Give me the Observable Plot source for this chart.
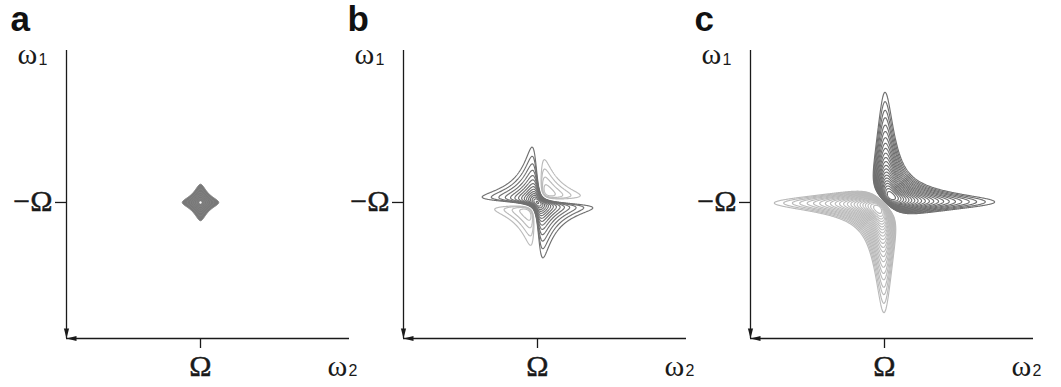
<!DOCTYPE html>
<html>
<head>
<meta charset="utf-8">
<script src="https://cdn.jsdelivr.net/npm/d3@7"></script>
<script src="https://cdn.jsdelivr.net/npm/@observablehq/plot@0.6"></script>
<style>
  html, body { margin: 0; padding: 0; background: #ffffff; }
  #fig { position: relative; width: 1061px; height: 387px; overflow: hidden; background: #ffffff; }
  #fig svg { position: absolute; top: 0; background: transparent !important; max-width: none !important; }
</style>
</head>
<body>
<div id="fig"></div>
<script>
// ---------- data ----------
const panelLetters = ["a", "b", "c"];
const lineshapes = ["magnitude", "absorptive", "dispersive"];
const linewidths = [0.40, 0.45, 0.82];            // peak width (in ω units)
const peakOmega2 = [10, 10, 10];                  // ω2 = Ω
const peakOmega1 = [-10, -10, -10];               // ω1 = −Ω
const xTickValues = [10];
const xTickLabels = ["Ω"];
const yTickValues = [-10];
const yTickLabels = ["−Ω"];
const axisSymbols = ["ω", "ω"];
const axisSubscripts = ["1", "2"];
// panel a: outermost contour (filled region) and innermost contour (white centre)
const filledLevel = [0.08, null, null];
const holeLevel = [0.95, null, null];
const positiveLevels = [
  [0.08, 0.14, 0.22, 0.32, 0.45, 0.62, 0.80],
  [0.060, 0.073, 0.089, 0.109, 0.133, 0.162, 0.198, 0.241, 0.294, 0.359, 0.438, 0.534, 0.652, 0.795, 0.970],
  [0.099, 0.108, 0.118, 0.128, 0.140, 0.152, 0.166, 0.181, 0.197, 0.215, 0.234, 0.255, 0.278,
   0.303, 0.330, 0.360, 0.392, 0.428, 0.466, 0.508, 0.554, 0.604]
];
const negativeLevels = [
  [],
  [0.060, 0.073, 0.089, 0.109],
  [0.099, 0.108, 0.118, 0.128, 0.140, 0.152, 0.166, 0.181, 0.197, 0.215, 0.234, 0.255, 0.278,
   0.303, 0.330, 0.360, 0.392, 0.428, 0.466, 0.508, 0.554, 0.604]
];

// ---------- layout / style ----------
const xDomain = [0, 21.12];
const yDomain = [-20.15, 1.34];
const panelLeft = [0, 337, 684];
const W = 360, H = 387, ML = 66, MR = 11, MT = 50, MB = 49;
const INK = "#1a1a1a", DARK = "#707070", LIGHT = "#bababa", PANEL_A = "#787878";
const SERIF = "'Liberation Serif', 'Times New Roman', serif";
const SANS = "'Liberation Sans', Arial, sans-serif";

const shapes = {
  magnitude: (d1, d2) => 1 / ((1 + d1 * d1) * (1 + d2 * d2)),
  absorptive: (d1, d2) => (1 - d1 * d2) / ((1 + d1 * d1) * (1 + d2 * d2)),
  dispersive: (d1, d2) => (d1 + d2) / ((1 + d1 * d1) * (1 + d2 * d2))
};

const fig = document.getElementById("fig");
const [xa, xb] = xDomain, [ya, yb] = yDomain;
const k = (W - ML - MR) / (xb - xa); // px per unit

panelLetters.forEach((letter, i) => {
  const f = shapes[lineshapes[i]];
  const g = linewidths[i];
  const field = (s) => (x, y) => s * f((y - peakOmega1[i]) / g, (x - peakOmega2[i]) / g);
  const extent = {x1: xa, x2: xb, y1: ya, y2: yb, pixelSize: 0.5};
  const marks = [];
  if (filledLevel[i] != null) {
    marks.push(Plot.contour(null, {...extent, value: field(1), thresholds: [filledLevel[i]],
      fill: PANEL_A, stroke: PANEL_A, strokeWidth: 0.8}));
    marks.push(Plot.contour(null, {...extent, value: field(1), thresholds: positiveLevels[i],
      fill: "none", stroke: "#8a8a8a", strokeWidth: 0.6}));
    marks.push(Plot.contour(null, {...extent, value: field(1), thresholds: [holeLevel[i]],
      fill: "#ffffff", stroke: "none"}));
  } else {
    marks.push(Plot.contour(null, {...extent, value: field(1), thresholds: positiveLevels[i],
      stroke: DARK, strokeWidth: 1.15, fill: "none"}));
  }
  if (negativeLevels[i].length) {
    marks.push(Plot.contour(null, {...extent, value: field(-1), thresholds: negativeLevels[i],
      stroke: LIGHT, strokeWidth: 1.15, fill: "none"}));
  }
  // axis lines
  marks.push(Plot.ruleX([xa], {y1: ya, y2: yb, stroke: INK, strokeWidth: 1.3}));
  marks.push(Plot.ruleY([ya], {x1: xa, x2: xb, stroke: INK, strokeWidth: 1.3}));
  // arrow heads at the origin
  marks.push(Plot.vector([0], {x: xa, y: ya, rotate: 180, length: 10, r: 2.6, shape: "spike", anchor: "end", fill: INK, stroke: "none"}));
  marks.push(Plot.vector([0], {x: xa, y: ya, rotate: 270, length: 10, r: 2.6, shape: "spike", anchor: "end", fill: INK, stroke: "none"}));
  // ticks
  marks.push(Plot.ruleX(xTickValues, {y1: ya, y2: ya - 10 / k, stroke: INK, strokeWidth: 1.3}));
  marks.push(Plot.ruleY(yTickValues, {x1: xa - 11 / k, x2: xa, stroke: INK, strokeWidth: 1.3}));
  // tick labels
  marks.push(Plot.text(xTickValues, {x: d => d, y: ya, text: (d, j) => xTickLabels[j], dy: 37,
    lineAnchor: "bottom", fontSize: 30, fontFamily: SERIF, fill: INK, stroke: INK, strokeWidth: 0.4}));
  marks.push(Plot.text(yTickValues, {x: xa, y: d => d, text: (d, j) => yTickLabels[j], dx: -14, dy: 9,
    textAnchor: "end", lineAnchor: "bottom", fontSize: 30, fontFamily: SERIF, fill: INK, stroke: INK, strokeWidth: 0.4}));
  // axis names
  marks.push(Plot.text([axisSymbols[0]], {x: xa, y: yb, text: d => d, dx: -49, dy: 13,
    textAnchor: "start", lineAnchor: "bottom", fontSize: 30, fontFamily: SERIF, fill: INK}));
  marks.push(Plot.text([axisSubscripts[0]], {x: xa, y: yb, text: d => d, dx: -28, dy: 14,
    textAnchor: "start", lineAnchor: "bottom", fontSize: 16, fontFamily: SANS, fill: INK}));
  marks.push(Plot.text([axisSymbols[1]], {x: xb, y: ya, text: d => d, dx: -22, dy: 37,
    textAnchor: "start", lineAnchor: "bottom", fontSize: 30, fontFamily: SERIF, fill: INK}));
  marks.push(Plot.text([axisSubscripts[1]], {x: xb, y: ya, text: d => d, dx: -1, dy: 37,
    textAnchor: "start", lineAnchor: "bottom", fontSize: 16, fontFamily: SANS, fill: INK}));
  // panel letter
  marks.push(Plot.text([letter], {x: xa, y: yb, text: d => d, dx: -56, dy: -20,
    textAnchor: "start", lineAnchor: "bottom", fontSize: 35, fontWeight: "bold", fontFamily: SANS, fill: "#111"}));

  const svg = Plot.plot({
    width: W, height: H,
    marginLeft: ML, marginRight: MR, marginTop: MT, marginBottom: MB,
    x: {domain: xDomain, axis: null},
    y: {domain: yDomain, axis: null},
    style: {background: "transparent", overflow: "visible"},
    marks
  });
  svg.style.left = panelLeft[i] + "px";
  fig.appendChild(svg);
});
</script>
</body>
</html>
